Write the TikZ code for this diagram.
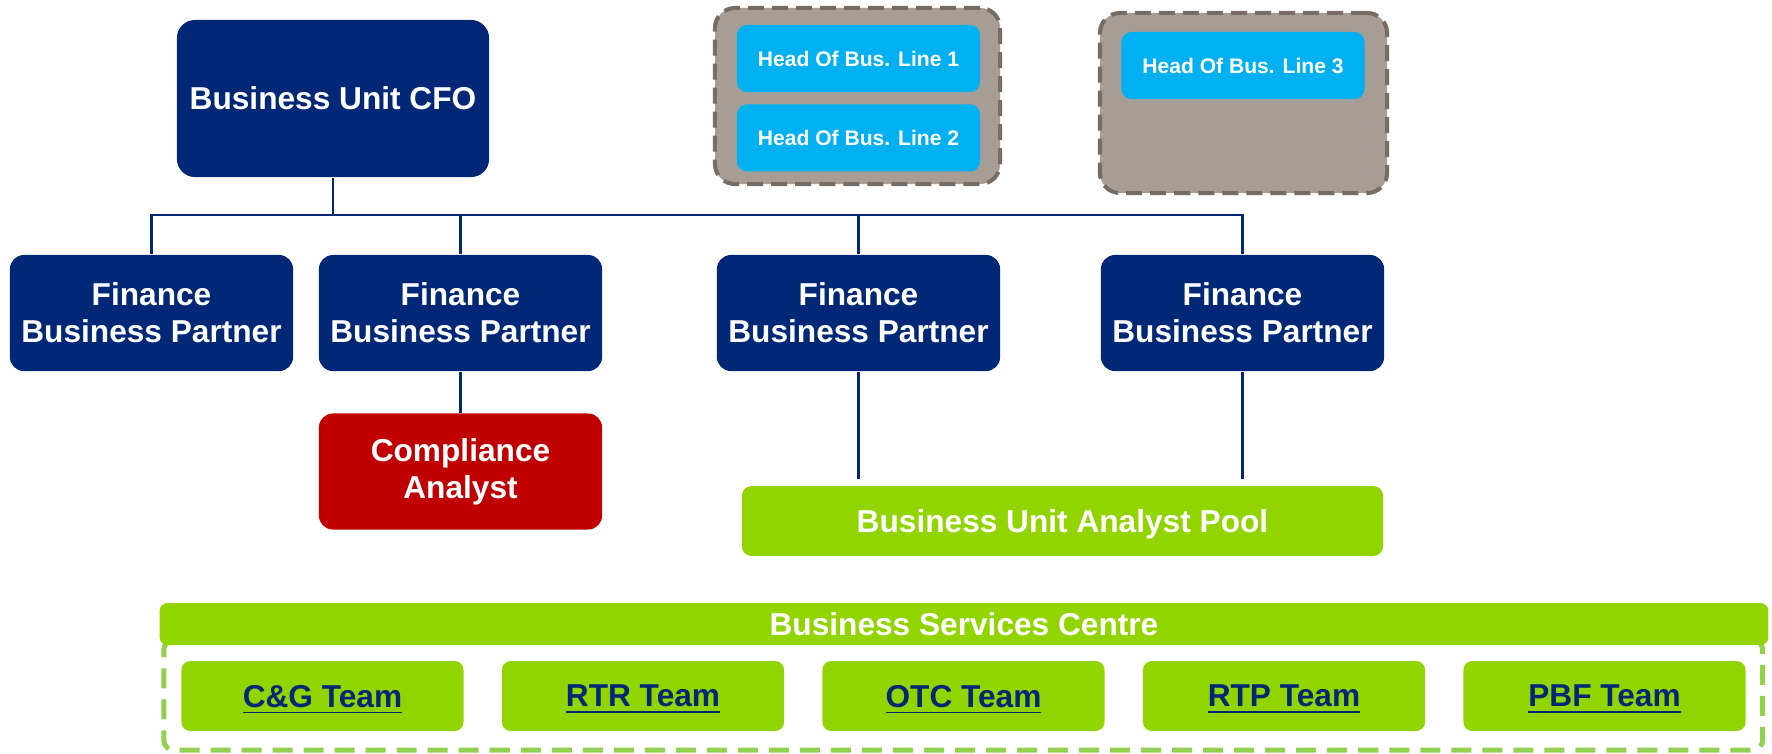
\documentclass[tikz,border=0pt]{standalone}
\usepackage{fontspec}
\setmainfont{Liberation Sans}
\usetikzlibrary{positioning,calc}
\definecolor{cfoblue}{RGB}{0,40,118}
\definecolor{alertred}{RGB}{192,0,0}
\definecolor{poolgreen}{RGB}{146,212,0}
\definecolor{dashgreen}{RGB}{146,208,80}
\definecolor{headblue}{RGB}{0,176,240}
\definecolor{groupgrey}{RGB}{166,157,150}
\definecolor{groupedge}{RGB}{118,108,100}
\tikzset{
	auto,node distance =1 cm and 1 cm,semithick,
	box/.style ={rectangle, inner sep=0pt, align=center, rounded corners=0.14cm,
		text=white, font=\bfseries\fontsize{9}{10.5}\selectfont},
	fbp/.style = {box, fill=cfoblue, minimum width=2.83cm, minimum height=1.16cm},
	team/.style = {box, fill=poolgreen, rounded corners=0.09cm, text=cfoblue,
		text depth=0pt, minimum width=2.82cm, minimum height=0.7cm},
	head/.style = {box, fill=headblue, rounded corners=0.1cm, minimum width=2.43cm,
		minimum height=0.67cm, font=\bfseries\fontsize{6}{7}\selectfont},
	link/.style = {draw=cfoblue, line width=0.6pt}
}
\begin{document}
\begin{tikzpicture}[x=0.01cm, y=-0.01cm]
		\tikzstyle{group} = [rectangle, rounded corners=0.2cm, fill=groupgrey,
		draw=groupedge, line width=0.04cm, dash pattern=on 0.16cm off 0.08cm]
		\tikzstyle{frame} = [rectangle, rounded corners=0.1cm, draw=dashgreen,
		line width=0.05cm, dash pattern=on 0.2cm off 0.11cm]
		\useasboundingbox (0,0) rectangle (1772,753);
		\path
		node[box, fill=cfoblue, rounded corners=0.18cm, minimum width=3.12cm,
		minimum height=1.57cm] (cfo) at (333,98.5) {Business Unit CFO}
		node[fbp] (fa) at (151.5,313) {Finance\\Business Partner}
		node[fbp] (fb) at (460.5,313) {Finance\\Business Partner}
		node[fbp] (fc) at (858.5,313) {Finance\\Business Partner}
		node[fbp] (fd) at (1242.5,313) {Finance\\Business Partner}
		node[fbp, fill=alertred, below=0.41cm of fb] (ca) {Compliance\\Analyst}
		node[box, fill=poolgreen, rounded corners=0.1cm, minimum width=6.41cm,
		minimum height=0.7cm, text depth=0pt] (pool) at (1062.5,521) {Business Unit Analyst Pool};
		% heads of business lines
		\node[group, minimum width=2.85cm, minimum height=1.76cm] (ga) at (857.5,96) {};
		\node[group, minimum width=2.87cm, minimum height=1.8cm] (gb) at (1243.5,103) {};
		\node[head] (hla) at (858.5,58.5) {Head Of Bus. Line 1};
		\node[head, below=0.11cm of hla] (hlb) {Head Of Bus. Line 2};
		\node[head] (hlc) at (1243,65.5) {Head Of Bus. Line 3};
		% business services centre
		\node[frame, minimum width=15.98cm, minimum height=1.1cm] (bsc) at (963.25,695) {};
		\node[box, fill=poolgreen, rounded corners=0.08cm, minimum width=16.08cm,
		minimum height=0.42cm, text depth=0pt] (bsh) at (964,624) {Business Services Centre};
		\foreach \i/\name/\lbl in {0/cg/C\&G, 1/rtr/RTR, 2/otc/OTC, 3/rtp/RTP, 4/pbf/PBF}
			\node[team] (\name) at (322.5+320.5*\i,696) {\underline{\lbl{} Team}};
		\coordinate (bus) at (333,215);
		\draw[link] (cfo.south) -- (bus);
		\draw[link] (bus) -| (fa.north);
		\draw[link] (bus) -| (fb.north);
		\draw[link] (bus) -| (fc.north);
		\draw[link] (bus) -| (fd.north);
		\draw[link] (fb.south) -- (ca.north);
		\path[link]
		(fc.south) edge[shorten >=0.06cm] (fc.south |- pool.north)
		(fd.south) edge[shorten >=0.06cm] (fd.south |- pool.north);
% 		\draw[link] (pool) -- (bsh);
	    \end{tikzpicture}
\end{document}
